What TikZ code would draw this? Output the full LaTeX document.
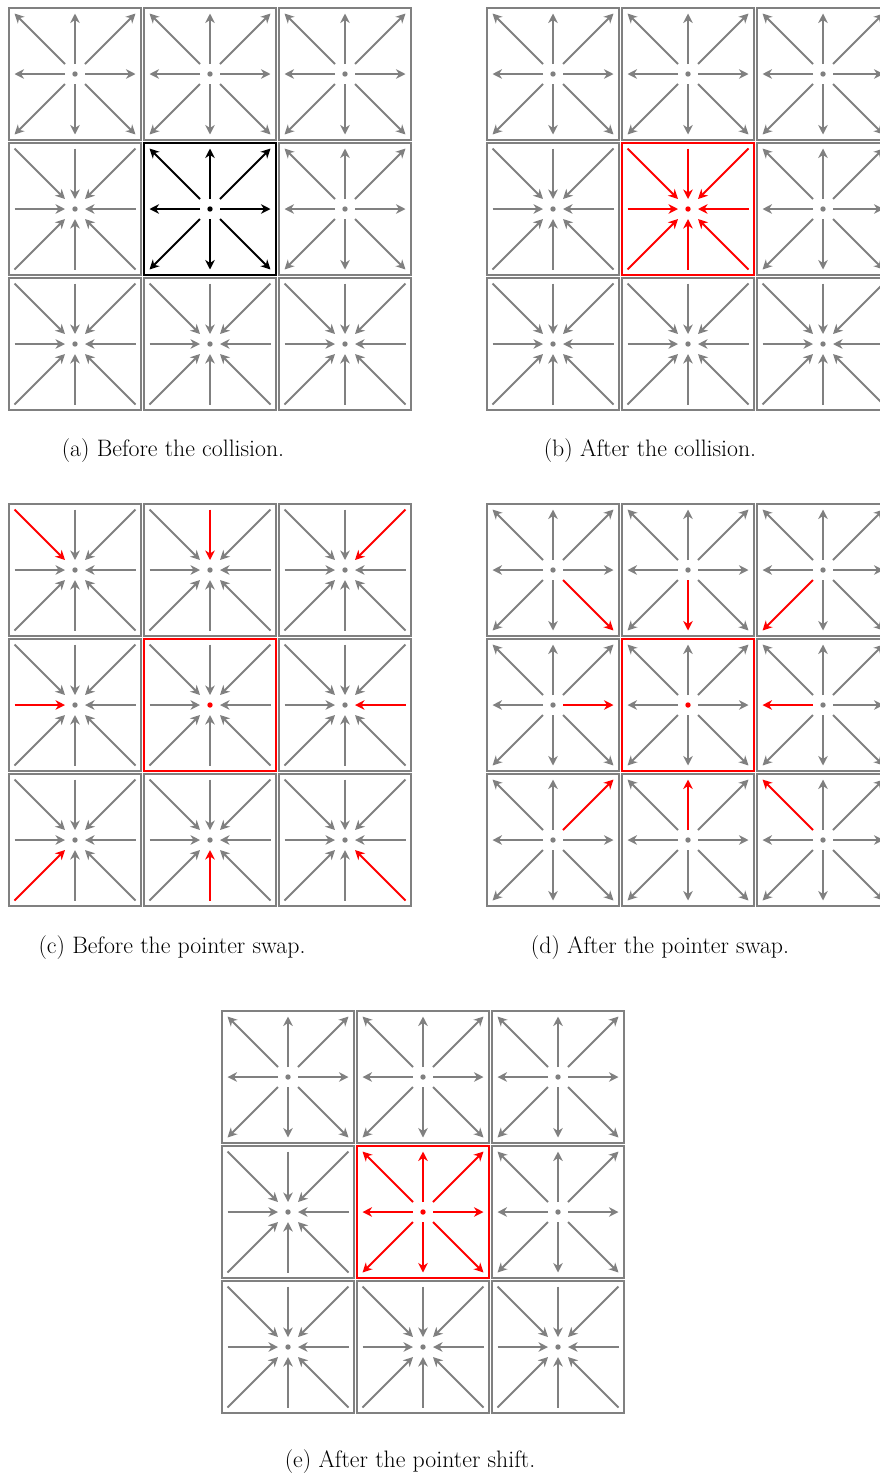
\documentclass[tikz,border=0pt]{standalone}
\usetikzlibrary{arrows.meta}
\tikzset{
  cellbox/.style={line width=2.05pt},
  arr/.style={line width=1.9pt, -{Stealth[length=9.5pt,width=9.5pt,inset=3pt]}},
  caption/.style={font=\fontsize{23.8}{28}\selectfont, inner sep=0pt}
}
% #1 x, #2 y, #3 dir (1 out, -1 in), #4 frame colour, #5 dot colour, #6 arrow colour, #7 highlighted direction
\newcommand\lbcell[7]{%
  \begin{scope}[shift={(#1,#2)}]
    \draw[cellbox, draw=#4] (-66.3,-66.3) rectangle (66.3,66.3);
    \fill[#5] (0,0) circle (2.7);
    \foreach \dx/\dy in {1/0,1/1,0/1,-1/1,-1/0,-1/-1,0/-1,1/-1}{%
      \edef\cur{\dx,\dy}\def\hl{#7}%
      \ifx\cur\hl \def\ac{red}\else\def\ac{#6}\fi
      \ifnum#3>0
        \draw[arr, color=\ac] (10*\dx,10*\dy) -- (60.5*\dx,60.5*\dy);
      \else
        \draw[arr, color=\ac] (60.5*\dx,60.5*\dy) -- (10*\dx,10*\dy);
      \fi
    }
  \end{scope}}
\newcommand\pp{135}
\begin{document}
\begin{tikzpicture}[x=1pt,y=-1pt]
\useasboundingbox (0,0) rectangle (880,1473);
\clip (0,0) rectangle (880,1473);
% ---------- (a)
\def\X{75}\def\Y{74}
\lbcell{\X}{\Y}{1}{gray}{gray}{gray}{none}
\lbcell{\X+\pp}{\Y}{1}{gray}{gray}{gray}{none}
\lbcell{\X+2*\pp}{\Y}{1}{gray}{gray}{gray}{none}
\lbcell{\X}{\Y+\pp}{-1}{gray}{gray}{gray}{none}
\lbcell{\X+2*\pp}{\Y+\pp}{1}{gray}{gray}{gray}{none}
\lbcell{\X}{\Y+2*\pp}{-1}{gray}{gray}{gray}{none}
\lbcell{\X+\pp}{\Y+2*\pp}{-1}{gray}{gray}{gray}{none}
\lbcell{\X+2*\pp}{\Y+2*\pp}{-1}{gray}{gray}{gray}{none}
\lbcell{\X+\pp}{\Y+\pp}{1}{black}{black}{black}{none}
\node[caption] (capa) at (173,451) {(a) Before the collision.};
% ---------- (b)
\def\X{553}\def\Y{74}
\lbcell{\X}{\Y}{1}{gray}{gray}{gray}{none}
\lbcell{\X+\pp}{\Y}{1}{gray}{gray}{gray}{none}
\lbcell{\X+2*\pp}{\Y}{1}{gray}{gray}{gray}{none}
\lbcell{\X}{\Y+\pp}{-1}{gray}{gray}{gray}{none}
\lbcell{\X+2*\pp}{\Y+\pp}{1}{gray}{gray}{gray}{none}
\lbcell{\X}{\Y+2*\pp}{-1}{gray}{gray}{gray}{none}
\lbcell{\X+\pp}{\Y+2*\pp}{-1}{gray}{gray}{gray}{none}
\lbcell{\X+2*\pp}{\Y+2*\pp}{-1}{gray}{gray}{gray}{none}
\lbcell{\X+\pp}{\Y+\pp}{-1}{red}{red}{red}{none}
\node[caption] (capb) at (650,451) {(b) After the collision.};
% ---------- (c)
\def\X{75}\def\Y{570}
\lbcell{\X}{\Y}{-1}{gray}{gray}{gray}{-1,-1}
\lbcell{\X+\pp}{\Y}{-1}{gray}{gray}{gray}{0,-1}
\lbcell{\X+2*\pp}{\Y}{-1}{gray}{gray}{gray}{1,-1}
\lbcell{\X}{\Y+\pp}{-1}{gray}{gray}{gray}{-1,0}
\lbcell{\X+2*\pp}{\Y+\pp}{-1}{gray}{gray}{gray}{1,0}
\lbcell{\X}{\Y+2*\pp}{-1}{gray}{gray}{gray}{-1,1}
\lbcell{\X+\pp}{\Y+2*\pp}{-1}{gray}{gray}{gray}{0,1}
\lbcell{\X+2*\pp}{\Y+2*\pp}{-1}{gray}{gray}{gray}{1,1}
\lbcell{\X+\pp}{\Y+\pp}{-1}{red}{red}{gray}{none}
\node[caption] (capc) at (172,948) {(c) Before the pointer swap.};
% ---------- (d)
\def\X{553}\def\Y{570}
\lbcell{\X}{\Y}{1}{gray}{gray}{gray}{1,1}
\lbcell{\X+\pp}{\Y}{1}{gray}{gray}{gray}{0,1}
\lbcell{\X+2*\pp}{\Y}{1}{gray}{gray}{gray}{-1,1}
\lbcell{\X}{\Y+\pp}{1}{gray}{gray}{gray}{1,0}
\lbcell{\X+2*\pp}{\Y+\pp}{1}{gray}{gray}{gray}{-1,0}
\lbcell{\X}{\Y+2*\pp}{1}{gray}{gray}{gray}{1,-1}
\lbcell{\X+\pp}{\Y+2*\pp}{1}{gray}{gray}{gray}{0,-1}
\lbcell{\X+2*\pp}{\Y+2*\pp}{1}{gray}{gray}{gray}{-1,-1}
\lbcell{\X+\pp}{\Y+\pp}{1}{red}{red}{gray}{none}
\node[caption] (capd) at (660,948) {(d) After the pointer swap.};
% ---------- (e)
\def\X{288}\def\Y{1077}
\lbcell{\X}{\Y}{1}{gray}{gray}{gray}{none}
\lbcell{\X+\pp}{\Y}{1}{gray}{gray}{gray}{none}
\lbcell{\X+2*\pp}{\Y}{1}{gray}{gray}{gray}{none}
\lbcell{\X}{\Y+\pp}{-1}{gray}{gray}{gray}{none}
\lbcell{\X+2*\pp}{\Y+\pp}{1}{gray}{gray}{gray}{none}
\lbcell{\X}{\Y+2*\pp}{-1}{gray}{gray}{gray}{none}
\lbcell{\X+\pp}{\Y+2*\pp}{-1}{gray}{gray}{gray}{none}
\lbcell{\X+2*\pp}{\Y+2*\pp}{-1}{gray}{gray}{gray}{none}
\lbcell{\X+\pp}{\Y+\pp}{1}{red}{red}{red}{none}
\node[caption] (cape) at (410,1462) {(e) After the pointer shift.};
\end{tikzpicture}
\end{document}
